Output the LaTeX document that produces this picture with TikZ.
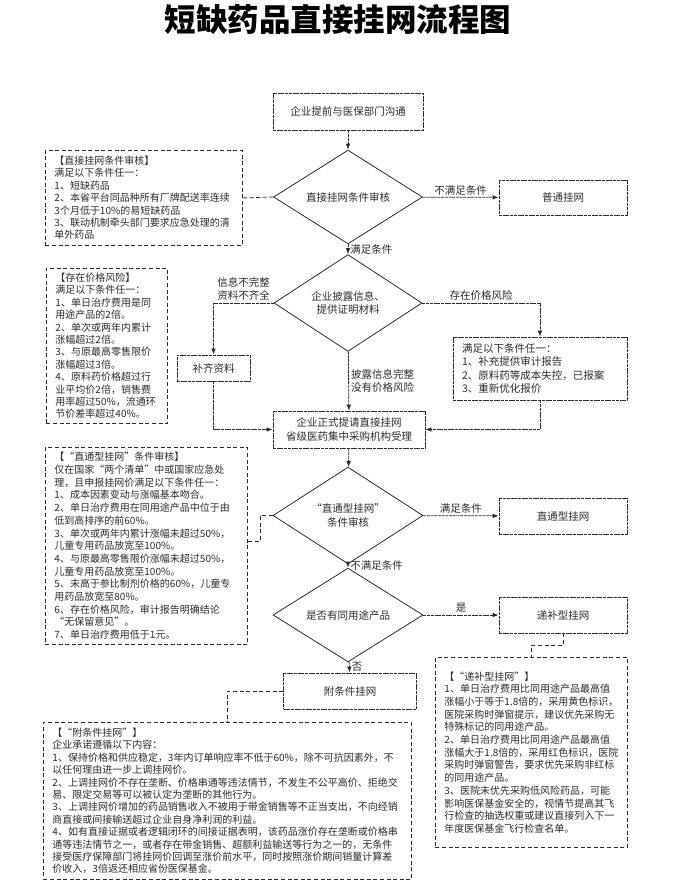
\documentclass[tikz,border=0pt]{standalone}
\usepackage{fontspec}
\setmainfont{Noto Sans CJK SC}
\usepackage{tikz}
\usetikzlibrary{arrows.meta,positioning,shapes.geometric,calc}
\usepackage{xcolor}
\definecolor{ink}{HTML}{2B2B2B}

\begin{document}
\begin{tikzpicture}[
    x=1pt, y=-1pt,
    every node/.style={text=ink},
    flow/.style={font=\fontsize{10.5}{13.5}\selectfont, align=center},
    box/.style={flow, rectangle, draw=ink, line width=0.8pt, dash pattern=on 3pt off 0.7pt, inner sep=2pt},
    decision/.style={flow, diamond, draw=ink, line width=0.8pt, inner sep=0pt, minimum width=149pt, minimum height=58pt},
    note/.style={rectangle, draw=ink, line width=0.9pt, dash pattern=on 4pt off 2.6pt, anchor=north west, align=left, inner xsep=9pt, font=\fontsize{10}{12.4}\selectfont},
    tag/.style={font=\fontsize{10.5}{13}\selectfont, align=center, inner sep=2pt},
    edge/.style={draw=ink, line width=0.8pt, dash pattern=on 3pt off 0.7pt, -{Latex[length=6pt,width=4.6pt]}},
    link/.style={draw=ink, line width=0.8pt, dash pattern=on 4pt off 2.6pt}
]
\useasboundingbox (0,0) rectangle (680,884);

\node[text=black] (title) at (338,19) {\fontsize{31.5}{34}\selectfont\bfseries 短缺药品直接挂网流程图};

\node[box, minimum width=150pt, minimum height=37pt] (start) at (348,111.5) {企业提前与医保部门沟通};
\node[decision] (d1) at (348,197) {直接挂网条件审核};
\node[box, minimum width=128pt, minimum height=35pt] (plain) at (563,197.5) {普通挂网};
\node[decision, minimum width=148pt] (d2) at (348,303) {企业披露信息、\\提供证明材料};
\node[box, minimum width=73pt, minimum height=26pt] (supply) at (213.5,368) {补齐资料};
\node[box, align=left, text width=156pt, inner xsep=9pt, minimum height=63pt] (riskbox) at (540,368.5) {满足以下条件任一：\\1、补充提供审计报告\\2、原料药等成本失控，已报案\\3、重新优化报价};
\node[box, minimum width=152pt, minimum height=37pt] (apply) at (349,429.5) {企业正式提请直接挂网\\省级医药集中采购机构受理};
\node[decision, minimum width=150pt, minimum height=57pt] (d3) at (348,515.5) {“直通型挂网”\\条件审核};
\node[box, minimum width=128pt, minimum height=36pt] (direct) at (563,516) {直通型挂网};
\node[decision, minimum width=150pt] (d4) at (348,615) {是否有同用途产品};
\node[box, minimum width=128pt, minimum height=36pt] (suppl) at (563,615) {递补型挂网};
\node[box, minimum width=133pt, minimum height=36pt] (attach) at (350,691) {附条件挂网};

\node[note, text width=179pt, minimum height=95pt] (ncond) at (45,150) {【直接挂网条件审核】\\满足以下条件任一：\\1、短缺药品\\2、本省平台同品种所有厂牌配送率连续\\3个月低于10\%的易短缺药品\\3、联动机制牵头部门要求应急处理的清\\单外药品};
\node[note, text width=103pt, minimum height=155pt] (nrisk) at (46,268) {【存在价格风险】\\满足以下条件任一：\\1、单日治疗费用是同\\用途产品的2倍。\\2、单次或两年内累计\\涨幅超过2倍。\\3、与原最高零售限价\\涨幅超过3倍。\\4、原料药价格超过行\\业平均价2倍，销售费\\用率超过50\%，流通环\\节价差率超过40\%。};
\node[note, text width=184pt, minimum height=197pt, font=\fontsize{10}{12.7}\selectfont] (ndirect) at (45,447) {【“直通型挂网”条件审核】\\仅在国家“两个清单”中或国家应急处\\理，且申报挂网价满足以下条件任一：\\1、成本因素变动与涨幅基本吻合。\\2、单日治疗费用在同用途产品中位于由\\低到高排序的前60\%。\\3、单次或两年内累计涨幅未超过50\%，\\儿童专用药品放宽至100\%。\\4、与原最高零售限价涨幅未超过50\%，\\儿童专用药品放宽至100\%。\\5、未高于参比制剂价格的60\%，儿童专\\用药品放宽至80\%。\\6、存在价格风险，审计报告明确结论\\“无保留意见”。\\7、单日治疗费用低于1元。};
\node[note, text width=174pt, minimum height=190pt, font=\fontsize{10}{12.7}\selectfont] (nsupp) at (435,657) {【“递补型挂网”】\\1、单日治疗费用比同用途产品最高值\\涨幅小于等于1.8倍的，采用黄色标识，\\医院采购时弹窗提示，建议优先采购无\\特殊标记的同用途产品。\\2、单日治疗费用比同用途产品最高值\\涨幅大于1.8倍的，采用红色标识，医院\\采购时弹窗警告，要求优先采购非红标\\的同用途产品。\\3、医院未优先采购低风险药品，可能\\影响医保基金安全的，视情节提高其飞\\行检查的抽选权重或建议直接列入下一\\年度医保基金飞行检查名单。};
\node[note, text width=350pt, minimum height=157pt] (nattach) at (43,722) {【“附条件挂网”】\\企业承诺遵循以下内容：\\1、保持价格和供应稳定，3年内订单响应率不低于60\%，除不可抗因素外，不\\以任何理由进一步上调挂网价。\\2、上调挂网价不存在垄断、价格串通等违法情节，不发生不公平高价、拒绝交\\易、限定交易等可以被认定为垄断的其他行为。\\3、上调挂网价增加的药品销售收入不被用于带金销售等不正当支出，不向经销\\商直接或间接输送超过企业自身净利润的利益。\\4、如有直接证据或者逻辑闭环的间接证据表明，该药品涨价存在垄断或价格串\\通等违法情节之一，或者存在带金销售、超额利益输送等行为之一的，无条件\\接受医疗保障部门将挂网价回调至涨价前水平，同时按照涨价期间销量计算差\\价收入，3倍返还相应省份医保基金。};

\draw[edge] (start) -- (d1);
\draw[edge] (d1) -- node[tag, above] {不满足条件} (plain);
\draw[edge] (d1) -- node[tag, right] {满足条件} (d2);
\draw[edge] (d2.west) -| node[tag, above, pos=0.25] {信息不完整\\资料不齐全} (supply.north);
\draw[edge] (d2.east) -| node[tag, above, pos=0.25] {存在价格风险} (riskbox.north);
\draw[edge] (d2) -- node[tag, right] {披露信息完整\\没有价格风险} (apply);
\draw[edge] (supply.south) |- (apply.west);
\draw[edge] (riskbox.south) |- (apply.east);
\draw[edge] (apply) -- (d3);
\draw[edge] (d3) -- node[tag, above] {满足条件} (direct);
\draw[edge] (d3) -- node[tag, right] {不满足条件} (d4);
\draw[edge] (d4) -- node[tag, above] {是} (suppl);
\draw[edge] (d4) -- node[tag, right] {否} (attach);

\draw[link] (ncond.east) -- (d1.west);
\draw[link] ([yshift=5pt]ndirect.east) -- ++(12,0) |- (d3.west);
\draw[link] (suppl.south) -- ++(0,12) -| (nsupp.north);
\draw[link] (attach.west) -| (nattach.north);
\end{tikzpicture}
\end{document}
